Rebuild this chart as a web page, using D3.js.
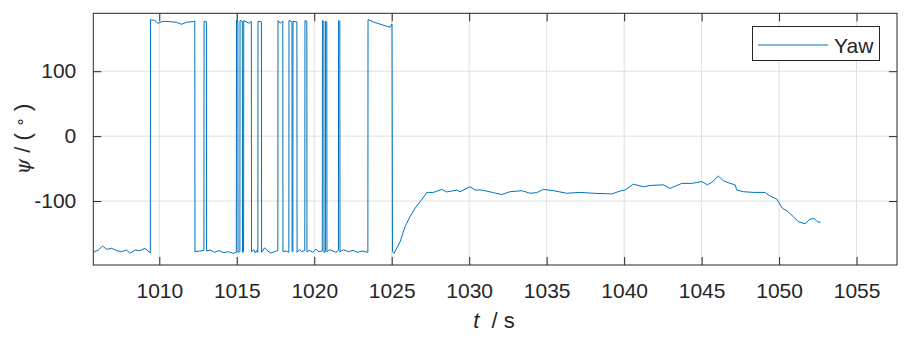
<!DOCTYPE html>
<html>
<head>
<meta charset="utf-8">
<script src="https://cdn.jsdelivr.net/npm/d3@7"></script>
<style>
  html, body { margin: 0; padding: 0; background: #fff; }
  svg { display: block; }
  text { font-family: "Liberation Sans", Arial, sans-serif; fill: #262626; }
</style>
</head>
<body>
<svg id="chart" width="913" height="339"></svg>
<script>
// ---- data ----
const time = [
  1005.74, 1006.06, 1006.34, 1006.60, 1006.92, 1007.25, 1007.57, 1007.89, 1008.10, 1008.43, 1008.75, 1009.07, 1009.35, 1009.42,
  1009.43, 1009.70, 1009.92, 1010.24, 1010.67, 1011.10, 1011.43, 1011.75, 1012.18, 1012.29,
  1012.30, 1012.60, 1012.88,
  1012.89, 1013.04,
  1013.05, 1013.30, 1013.55, 1013.85, 1014.15, 1014.45, 1014.75, 1014.97,
  1014.98, 1015.07,
  1015.08, 1015.20,
  1015.21, 1015.36,
  1015.37, 1015.44,
  1015.45, 1015.60, 1015.80, 1015.94,
  1015.95, 1016.10, 1016.20, 1016.30, 1016.36,
  1016.37, 1016.59,
  1016.60, 1016.80, 1017.00, 1017.20, 1017.45, 1017.65,
  1017.66, 1017.80, 1017.97,
  1017.98, 1018.20, 1018.36,
  1018.37, 1018.50, 1018.56,
  1018.57, 1018.62,
  1018.63, 1018.88,
  1018.89, 1019.05, 1019.20, 1019.39,
  1019.40, 1019.52,
  1019.53, 1019.70, 1019.90, 1020.10, 1020.30, 1020.52,
  1020.53, 1020.62,
  1020.63, 1020.72,
  1020.73, 1020.81,
  1020.82, 1021.00, 1021.20, 1021.40, 1021.56,
  1021.57, 1021.65,
  1021.66, 1021.90, 1022.20, 1022.50, 1022.80, 1023.10, 1023.46,
  1023.47, 1023.92, 1024.44, 1024.89, 1025.02,
  1025.05, 1025.15, 1025.54, 1025.86, 1026.18, 1026.51, 1026.83, 1027.15, 1027.26,
  1027.69, 1028.23, 1028.55, 1029.20, 1029.41, 1030.05, 1030.38, 1030.81, 1031.56, 1032.10,
  1032.64, 1033.39, 1033.93, 1034.36, 1034.79, 1035.43, 1036.30, 1037.16, 1038.01, 1039.20,
  1039.74, 1040.06, 1040.59, 1041.24, 1041.67, 1042.53, 1042.96, 1043.72, 1044.36, 1045.01,
  1045.37, 1045.65, 1046.08, 1046.40, 1046.84, 1047.16, 1047.27, 1047.70, 1048.34, 1049.10,
  1049.31, 1049.85, 1050.21, 1050.50, 1050.92, 1051.24, 1051.68, 1052.00, 1052.28, 1052.47, 1052.69
];
const yaw = [
  -179, -175.4, -169.2, -174.4, -172.8, -176.4, -178, -175.4, -180.5, -175.4, -176.4, -172.8, -178.5, -180,
  179.5, 178, 173.8, 176.9, 176.4, 175.4, 172.3, 175.4, 176.4, 177.5,
  -178, -177, -176,
  177, 176,
  -177, -175.4, -179, -176.4, -179.5, -178, -180.5, -179,
  178, 177,
  -179, -178,
  178, 177,
  -179, -178,
  178, 176, 174, 177,
  -178, -175, -180, -176, -179,
  177, 176,
  -179, -172, -177, -180, -178, -176,
  178, 174, 177,
  -178, -177, -179,
  178, 177, 176,
  -178, -178,
  177, 176,
  -179, -175, -178, -176,
  178, 177,
  -178, -176, -179, -174, -178, -177,
  178, 177,
  -179, -178,
  177, 176,
  -178, -175, -177, -179, -176,
  178, 177,
  -178, -175, -178, -176, -179, -177, -179,
  179.5, 175, 171, 167.7, 172.8,
  -178, -180.5, -162.6, -139.5, -124, -111, -101, -90.8, -86.7,
  -86.7, -82, -86, -83, -85.6, -78, -83, -83, -87, -90,
  -85.6, -84, -88, -87, -82, -84, -88, -86.7, -88, -89,
  -84.6, -83, -74, -78, -76, -75, -80.5, -72.8, -72.8, -70,
  -75, -71.3, -61.5, -68.7, -72.8, -75, -83, -85.6, -86.7, -86.7,
  -90.8, -97, -111, -115, -124, -131.8, -135, -127.7, -127, -131.8, -132.8
];
const xTicks = [1010, 1015, 1020, 1025, 1030, 1035, 1040, 1045, 1050, 1055];
const yTicks = [-100, 0, 100];
const seriesName = "Yaw";

// ---- layout ----
const svg = d3.select("#chart");
const L = 93.3, R = 897, T = 13.3, B = 265;
const x = d3.scaleLinear().domain([1005.74, 1057.61]).range([L, R]);
const y = d3.scaleLinear().domain([-198.5, 189.2]).range([B, T]);
const axisColor = "#262626";
const gridColor = "#dfdfdf";
const fmt = d => String(d);

// grid
const grid = svg.append("g");
grid.selectAll("line.gx").data(xTicks).enter().append("line")
  .attr("x1", d => x(d)).attr("x2", d => x(d)).attr("y1", T).attr("y2", B)
  .attr("stroke", gridColor).attr("stroke-width", 1);
grid.selectAll("line.gy").data(yTicks).enter().append("line")
  .attr("x1", L).attr("x2", R).attr("y1", d => y(d)).attr("y2", d => y(d))
  .attr("stroke", gridColor).attr("stroke-width", 1);

// data line
const pts = time.map((t, i) => [t, yaw[i]]);
const clipId = "plotclip";
svg.append("clipPath").attr("id", clipId).append("rect")
  .attr("x", L).attr("y", T).attr("width", R - L).attr("height", B - T);
svg.append("path")
  .datum(pts)
  .attr("clip-path", `url(#${clipId})`)
  .attr("fill", "none")
  .attr("stroke", "#0072BD")
  .attr("stroke-width", 1)
  .attr("stroke-linejoin", "round")
  .attr("d", d3.line().x(d => x(d[0])).y(d => y(d[1])));

// axes (ticks inside, box)
const tickLen = 8;
const xAxisB = d3.axisBottom(x).tickValues(xTicks).tickSizeInner(-tickLen).tickSizeOuter(0).tickPadding(18).tickFormat(fmt);
const xAxisT = d3.axisTop(x).tickValues(xTicks).tickSizeInner(-tickLen).tickSizeOuter(0).tickFormat("");
const yAxisL = d3.axisLeft(y).tickValues(yTicks).tickSizeInner(-tickLen).tickSizeOuter(0).tickPadding(17).tickFormat(fmt);
const yAxisR = d3.axisRight(y).tickValues(yTicks).tickSizeInner(-tickLen).tickSizeOuter(0).tickFormat("");

function styleAxis(g) {
  g.select(".domain").remove();
  g.selectAll(".tick line").attr("stroke", axisColor).attr("stroke-width", 1);
  g.selectAll(".tick text").attr("fill", axisColor).style("font-size", "21px")
    .style("font-family", '"Liberation Sans", Arial, sans-serif');
}
svg.append("g").attr("transform", `translate(0,${B})`).call(xAxisB).call(styleAxis);
svg.append("g").attr("transform", `translate(0,${T})`).call(xAxisT).call(styleAxis);
svg.append("g").attr("transform", `translate(${L},0)`).call(yAxisL).call(styleAxis);
svg.append("g").attr("transform", `translate(${R},0)`).call(yAxisR).call(styleAxis);

svg.append("rect").attr("x", L).attr("y", T).attr("width", R - L).attr("height", B - T)
  .attr("fill", "none").attr("stroke", axisColor).attr("stroke-width", 1);

// x label
const xl = svg.append("text").attr("x", 494).attr("y", 328).attr("text-anchor", "middle")
  .style("font-size", "22px");
xl.append("tspan").style("font-style", "italic").text("t");
xl.append("tspan").attr("xml:space", "preserve").text("\u00a0\u00a0/ s");

// y label
const yl = svg.append("text").attr("transform", "translate(30,139) rotate(-90)")
  .attr("text-anchor", "middle").style("font-size", "22px");
yl.append("tspan").style("font-style", "italic").style("font-family", '"DejaVu Serif", serif').style("font-size", "20px").text("\u03c8");
yl.append("tspan").text(" / ( ");
yl.append("tspan").style("font-size", "16px").attr("dy", -4).text("\u2218");
yl.append("tspan").attr("dy", 4).text(" )");

// legend
const lg = svg.append("g");
lg.append("rect").attr("x", 752.5).attr("y", 26.5).attr("width", 127).attr("height", 34)
  .attr("fill", "#fff").attr("stroke", axisColor).attr("stroke-width", 1);
lg.append("line").attr("x1", 758).attr("x2", 828).attr("y1", 45).attr("y2", 45)
  .attr("stroke", "#0072BD").attr("stroke-width", 1);
lg.append("text").attr("x", 834).attr("y", 52.5).style("font-size", "21px").text(seriesName);
</script>
</body>
</html>
